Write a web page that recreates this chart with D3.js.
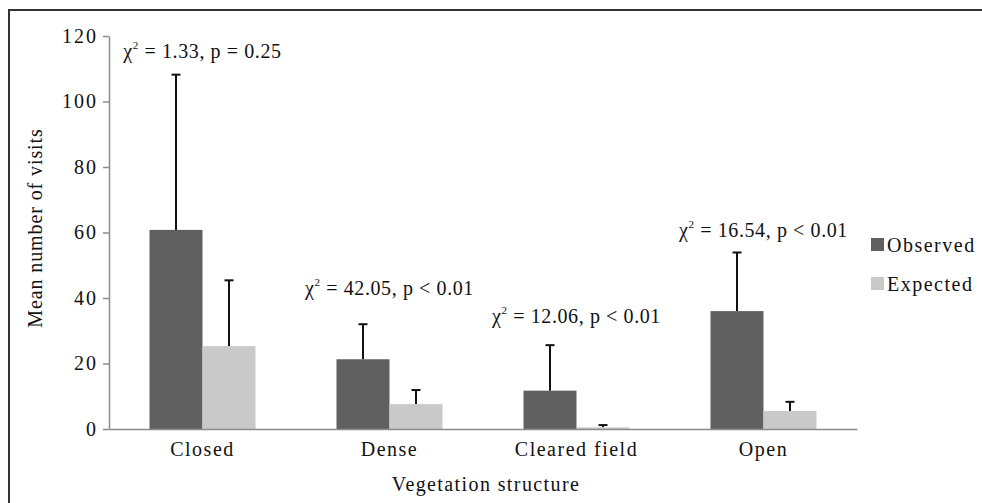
<!DOCTYPE html>
<html>
<head>
<meta charset="utf-8">
<script src="https://cdn.jsdelivr.net/npm/d3@7"></script>
<style>
  body { margin: 0; background: #fff; }
  text { font-family: "Liberation Serif", "Times New Roman", serif; fill: #111; }
</style>
</head>
<body>
<div class="chart"></div>
<script>
'use strict';

var categories = ['Closed', 'Dense', 'Cleared field', 'Open'];
var seriesNames = ['Observed', 'Expected'];
var observed = [60.8, 21.3, 11.7, 36.0];
var observedErr = [108.2, 32.0, 25.6, 53.9];
var expected = [25.3, 7.6, 0.5, 5.5];
var expectedErr = [45.4, 11.9, 1.2, 8.3];
var chiValues = ['1.33', '42.05', '12.06', '16.54'];
var pValues = ['p = 0.25', 'p < 0.01', 'p < 0.01', 'p < 0.01'];
var labelLevel = [113.4, 40.9, 32.3, 58.5];
var yTicks = [0, 20, 40, 60, 80, 100, 120];

var W = 982, H = 503;
var margin = { top: 36, left: 109, right: 125, bottom: 74 };
var width = W - margin.left - margin.right;
var height = H - margin.top - margin.bottom;
var colors = ['#606060', '#c9c9c9'];
var FONT = '"Liberation Serif", "Times New Roman", serif';

var svg = d3.select('.chart').append('svg').attr('width', W).attr('height', H);

// frame (top and left only)
svg.append('line').attr('x1', 9).attr('x2', W).attr('y1', 10).attr('y2', 10)
  .attr('stroke', '#333').attr('stroke-width', 2);
svg.append('line').attr('x1', 9).attr('x2', 9).attr('y1', 9).attr('y2', H)
  .attr('stroke', '#333').attr('stroke-width', 2);

var g = svg.append('g').attr('transform', 'translate(' + margin.left + ',' + margin.top + ')');

var x = d3.scaleBand().domain(categories).range([0, width]);
var x1 = d3.scaleBand().domain(seriesNames).range([x.bandwidth() / 2 - 53, x.bandwidth() / 2 + 53]);
var y = d3.scaleLinear().domain([0, 120]).range([height, 0]);

var yAxis = g.append('g').call(d3.axisLeft(y).tickValues(yTicks).tickSize(6).tickSizeOuter(0).tickPadding(5));
yAxis.select('.domain').attr('stroke', '#8c8c8c').attr('stroke-width', 1.5);
yAxis.selectAll('.tick line').attr('stroke', '#8c8c8c').attr('stroke-width', 1.5);
yAxis.selectAll('.tick text').attr('font-size', 20).attr('font-family', FONT)
  .attr('letter-spacing', 2).attr('fill', '#111');

var data = categories.map(function (c, i) {
  return [
    { cat: c, s: 'Observed', v: observed[i], e: observedErr[i] },
    { cat: c, s: 'Expected', v: expected[i], e: expectedErr[i] }
  ];
});

var groups = g.selectAll('g.grp').data(data).enter().append('g')
  .attr('transform', function (d, i) { return 'translate(' + x(categories[i]) + ',0)'; });

// error bars first so bars sit on top
groups.selectAll('line.err').data(function (d) { return d; }).enter().append('line')
  .attr('x1', function (d) { return x1(d.s) + x1.bandwidth() / 2; })
  .attr('x2', function (d) { return x1(d.s) + x1.bandwidth() / 2; })
  .attr('y1', function (d) { return y(d.v); })
  .attr('y2', function (d) { return y(d.e); })
  .attr('stroke', '#111').attr('stroke-width', 2);
groups.selectAll('line.cap').data(function (d) { return d; }).enter().append('line')
  .attr('x1', function (d) { return x1(d.s) + x1.bandwidth() / 2 - 4.5; })
  .attr('x2', function (d) { return x1(d.s) + x1.bandwidth() / 2 + 4.5; })
  .attr('y1', function (d) { return y(d.e); })
  .attr('y2', function (d) { return y(d.e); })
  .attr('stroke', '#111').attr('stroke-width', 2);

groups.selectAll('rect').data(function (d) { return d; }).enter().append('rect')
  .attr('x', function (d) { return x1(d.s); })
  .attr('width', x1.bandwidth())
  .attr('y', function (d) { return y(d.v); })
  .attr('height', function (d) { return y(0) - y(d.v); })
  .attr('fill', function (d) { return d.s === 'Observed' ? colors[0] : colors[1]; });

var xAxis = g.append('g').attr('transform', 'translate(0,' + height + ')')
  .call(d3.axisBottom(x).tickSize(0).tickPadding(13));
xAxis.select('.domain').attr('stroke', '#8c8c8c').attr('stroke-width', 1.5);
xAxis.selectAll('.tick text').attr('font-size', 20).attr('font-family', FONT)
  .attr('letter-spacing', 1.5).attr('fill', '#111');

// chi-square annotations
categories.forEach(function (c, i) {
  var t = g.append('text').attr('x', x(c) + x.bandwidth() / 2).attr('y', y(labelLevel[i]))
    .attr('text-anchor', 'middle').attr('font-size', 20).attr('letter-spacing', 0.6);
  t.append('tspan').text('\u03C7');
  t.append('tspan').attr('font-size', 11).attr('dy', -9).text('2');
  t.append('tspan').attr('dy', 9).text(' = ' + chiValues[i] + ', ' + pValues[i]);
});

// axis titles
svg.append('text').attr('transform', 'translate(42,228) rotate(-90)')
  .attr('text-anchor', 'middle').attr('font-size', 20).attr('letter-spacing', 0.9)
  .text('Mean number of visits');
svg.append('text').attr('x', 486).attr('y', 491)
  .attr('text-anchor', 'middle').attr('font-size', 20).attr('letter-spacing', 1.4)
  .text('Vegetation structure');

// legend
var legend = svg.append('g').attr('transform', 'translate(871,0)');
seriesNames.forEach(function (s, i) {
  var ly = 245 + i * 39;
  legend.append('rect').attr('x', 0).attr('y', ly - 7).attr('width', 13).attr('height', 13).attr('fill', colors[i]);
  legend.append('text').attr('x', 16).attr('y', ly + 7).attr('font-size', 20).attr('letter-spacing', 1.5).text(s);
});
</script>
</body>
</html>
